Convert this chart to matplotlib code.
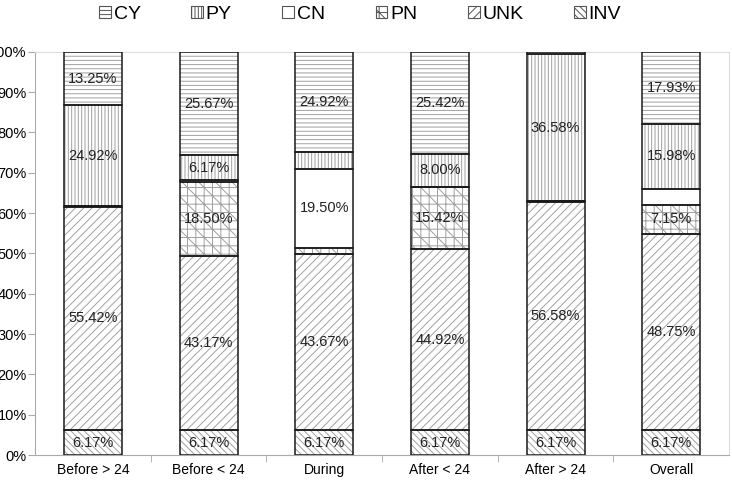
import matplotlib.pyplot as plt
import numpy as np
from matplotlib.patches import Patch

plt.rcParams['font.family'] = ['Liberation Sans', 'DejaVu Sans']
plt.rcParams['hatch.linewidth'] = 0.7

# Data (percent of each group)
categories = ['Before > 24', 'Before < 24', 'During', 'After < 24', 'After > 24', 'Overall']
series = ['INV', 'UNK', 'PN', 'CN', 'PY', 'CY']
inv = [6.17, 6.17, 6.17, 6.17, 6.17, 6.17]
unk = [55.42, 43.17, 43.67, 44.92, 56.58, 48.75]
pn = [0.24, 18.50, 1.57, 15.42, 0.17, 7.15]
cn = [0.00, 0.33, 19.50, 0.07, 0.00, 4.02]
py = [24.92, 6.17, 4.17, 8.00, 36.58, 15.98]
cy = [13.25, 25.67, 24.92, 25.42, 0.50, 17.93]

values = [inv, unk, pn, cn, py, cy]
hatches = {'INV': '\\\\\\\\\\', 'UNK': '////', 'PN': '++\\\\',
           'CN': '', 'PY': '|||||', 'CY': '----'}

fig = plt.figure(figsize=(7.32, 4.8), dpi=100)
ax = fig.add_axes([0.048, 0.052, 0.948, 0.840])

x = np.arange(len(categories))
width = 0.5
bottom = np.zeros(len(categories))
for name, vals in zip(series, values):
    vals = np.array(vals)
    # hatch in grey, outline in black
    ax.bar(x, vals, width, bottom=bottom, color='white', edgecolor='#a0a0a0',
           hatch=hatches[name], linewidth=0, zorder=2)
    ax.bar(x, vals, width, bottom=bottom, fill=False, edgecolor='#1a1a1a',
           linewidth=1.1, zorder=3)
    for xi, v, b in zip(x, vals, bottom):
        if v >= 5:
            ax.text(xi, b + v / 2, f'{v:.2f}%', ha='center', va='center',
                    fontsize=10.5, color='#222222', zorder=4)
    bottom += vals

# legend (CY first)
handles = [Patch(facecolor='white', edgecolor='#555555', hatch=hatches[n],
                 linewidth=0.8, label=n) for n in series[::-1]]
fig.legend(handles=handles, loc='upper center', bbox_to_anchor=(0.492, 1.025),
           ncol=6, frameon=False, fontsize=14, handlelength=0.6,
           handleheight=0.6, handletextpad=0.15, columnspacing=2.6)

ax.set_xlim(-0.5, len(categories) - 0.5)
ax.set_ylim(0, 100)
ax.set_yticks(np.arange(0, 101, 10))
ax.set_yticklabels([f'{t}%' for t in range(0, 101, 10)])
ax.set_xticks(x)
ax.set_xticklabels(categories)
ax.set_xticks(np.arange(0.5, len(categories) - 1, 1), minor=True)
ax.tick_params(axis='x', which='major', length=0, labelsize=10, pad=6)
ax.tick_params(axis='x', which='minor', length=5, color='#aaaaaa')
ax.tick_params(axis='y', length=5, color='#aaaaaa', labelsize=10.5, pad=1)

for s in ['left', 'bottom']:
    ax.spines[s].set_color('#aaaaaa')
for s in ['top', 'right']:
    ax.spines[s].set_color('#dddddd')

plt.savefig('out.png', dpi=100)
